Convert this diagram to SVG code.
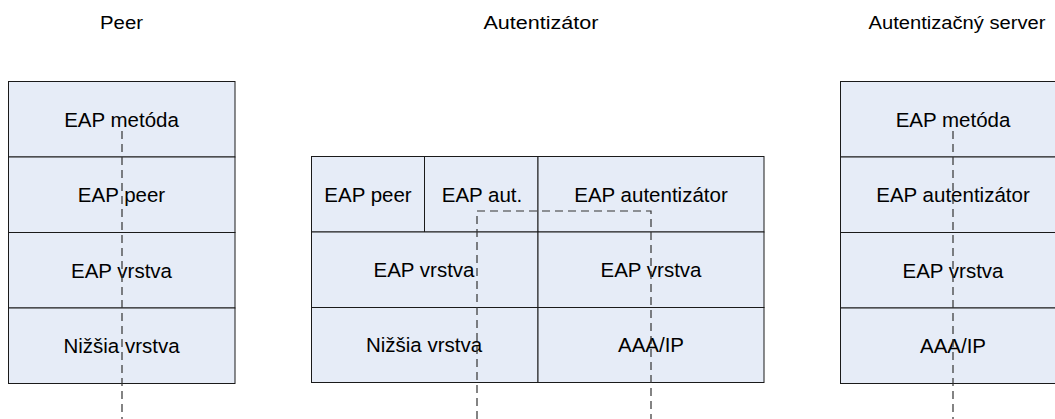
<svg xmlns="http://www.w3.org/2000/svg" width="1055" height="419" viewBox="0 0 1055 419">
<style>
.box{fill:#E6ECF7;stroke:#1a1a1a;stroke-width:1}
.lbl{font-family:"Liberation Sans",Arial,sans-serif;font-size:20.5px;fill:#000;text-anchor:middle}
.ttl{font-family:"Liberation Sans",Arial,sans-serif;font-size:17.5px;fill:#000;text-anchor:middle}
.dash{fill:none;stroke:#333;stroke-width:1.2;stroke-dasharray:8,5}
</style>
<rect width="1055" height="419" fill="#fff"/>
<g id="titles">
<text class="ttl" x="121.5" y="29" textLength="43" lengthAdjust="spacingAndGlyphs">Peer</text>
<text class="ttl" x="541" y="29" textLength="115" lengthAdjust="spacingAndGlyphs">Autentizátor</text>
<text class="ttl" x="957" y="29" textLength="177" lengthAdjust="spacingAndGlyphs">Autentizačný server</text>
</g>
<g id="peer">
<rect class="box" x="8.5" y="81.5" width="226.5" height="75.5"/>
<rect class="box" x="8.5" y="157" width="226.5" height="75.5"/>
<rect class="box" x="8.5" y="232.5" width="226.5" height="75.5"/>
<rect class="box" x="8.5" y="308" width="226.5" height="75.5"/>
<text class="lbl" x="121.5" y="126.5">EAP metóda</text>
<text class="lbl" x="121.5" y="202">EAP peer</text>
<text class="lbl" x="121.5" y="277.5">EAP vrstva</text>
<text class="lbl" x="121.5" y="353">Nižšia vrstva</text>
</g>
<g id="autentizator">
<rect class="box" x="311.5" y="156.5" width="113" height="75.5"/>
<rect class="box" x="424.5" y="156.5" width="113.5" height="75.5"/>
<rect class="box" x="538" y="156.5" width="226" height="75.5"/>
<rect class="box" x="311.5" y="232" width="226.5" height="75.5"/>
<rect class="box" x="538" y="232" width="226" height="75.5"/>
<rect class="box" x="311.5" y="307.5" width="226.5" height="75"/>
<rect class="box" x="538" y="307.5" width="226" height="75"/>
<text class="lbl" x="368" y="201.5">EAP peer</text>
<text class="lbl" x="482" y="201.5">EAP aut.</text>
<text class="lbl" x="651" y="201.5">EAP autentizátor</text>
<text class="lbl" x="424" y="277">EAP vrstva</text>
<text class="lbl" x="651" y="277">EAP vrstva</text>
<text class="lbl" x="424" y="352">Nižšia vrstva</text>
<text class="lbl" x="651" y="352">AAA/IP</text>
</g>
<g id="server">
<rect class="box" x="840.5" y="81.5" width="226.5" height="75.5"/>
<rect class="box" x="840.5" y="157" width="226.5" height="75.5"/>
<rect class="box" x="840.5" y="232.5" width="226.5" height="75.5"/>
<rect class="box" x="840.5" y="308" width="226.5" height="75.5"/>
<text class="lbl" x="953" y="126.5">EAP metóda</text>
<text class="lbl" x="953" y="202">EAP autentizátor</text>
<text class="lbl" x="953" y="277.5">EAP vrstva</text>
<text class="lbl" x="953" y="353">AAA/IP</text>
</g>
<g id="connectors">
<path class="dash" d="M122,131 V419"/>
<path class="dash" d="M477,419 V211 H651 V419"/>
<path class="dash" d="M953,131 V419"/>
</g>
</svg>
